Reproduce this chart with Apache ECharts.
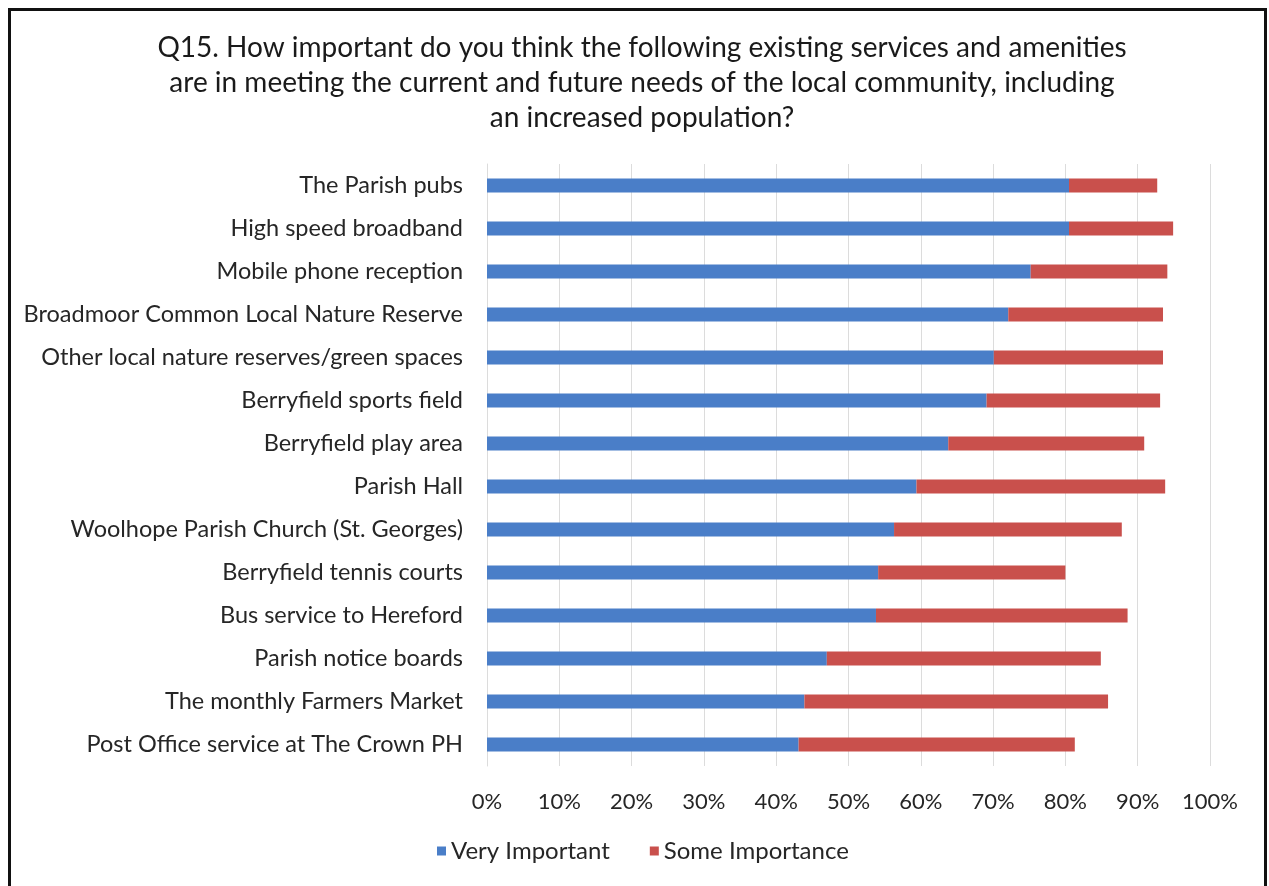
<!DOCTYPE html>
<html>
<head>
<meta charset="utf-8">
<script src="https://cdn.jsdelivr.net/npm/echarts@6/dist/echarts.min.js"></script>
<style>
  html, body { margin: 0; padding: 0; background: #fff; }
  #chart { width: 1269px; height: 886px; }
</style>
</head>
<body>
<div id="chart"></div>
<script>
// Survey answers, top row first
var categories = [
  'The Parish pubs',
  'High speed broadband',
  'Mobile phone reception',
  'Broadmoor Common Local Nature Reserve',
  'Other local nature reserves/green spaces',
  'Berryfield sports field',
  'Berryfield play area',
  'Parish Hall',
  'Woolhope Parish Church (St. Georges)',
  'Berryfield tennis courts',
  'Bus service to Hereford',
  'Parish notice boards',
  'The monthly Farmers Market',
  'Post Office service at The Crown PH'
];
var veryImportant = [80.5, 80.5, 75.2, 72.1, 70.1, 69.1, 63.8, 59.4, 56.3, 54.1, 53.8, 47.0, 43.9, 43.1];
var someImportance = [12.2, 14.4, 18.9, 21.4, 23.4, 24.0, 27.1, 34.4, 31.5, 25.9, 34.8, 37.9, 42.0, 38.2];
var tickValues = [0, 10, 20, 30, 40, 50, 60, 70, 80, 90, 100];

var FONT = 'Lato';
var chart = echarts.init(document.getElementById('chart'), null, { renderer: 'canvas' });

chart.setOption({
  backgroundColor: '#ffffff',
  animation: false,
  title: {
    text: 'Q15. How important do you think the following existing services and amenities\nare in meeting the current and future needs of the local community, including\nan increased population?',
    left: 637,
    top: 25,
    textAlign: 'center',
    textStyle: {
      fontFamily: FONT,
      fontSize: 28,
      fontWeight: 'normal',
      color: '#1a1a1a',
      lineHeight: 35
    }
  },
  legend: {
    bottom: 18,
    left: 432,
    itemWidth: 9,
    itemHeight: 9,
    itemGap: 40,
    icon: 'rect',
    textStyle: { fontFamily: FONT, fontSize: 24, color: '#262626' },
    data: ['Very Important', 'Some Importance']
  },
  grid: {
    left: 487,
    right: 59,
    top: 164,
    bottom: 120,
    containLabel: false
  },
  xAxis: {
    type: 'value',
    min: 0,
    max: 100,
    interval: 10,
    axisLine: { show: false },
    axisTick: { show: false },
    splitLine: { show: true, lineStyle: { color: '#dcdcdc', width: 1 } },
    axisLabel: {
      margin: 25,
      fontFamily: FONT,
      fontSize: 22,
      color: '#262626',
      formatter: function (v) { return tickValues.indexOf(v) >= 0 ? v + '%' : ''; }
    }
  },
  yAxis: {
    type: 'category',
    inverse: true,
    data: categories,
    axisLine: { show: true, lineStyle: { color: '#dcdcdc' } },
    axisTick: { show: false },
    axisLabel: {
      margin: 24,
      fontFamily: FONT,
      fontSize: 23.5,
      color: '#262626'
    }
  },
  series: [
    {
      name: 'Very Important',
      type: 'bar',
      stack: 'total',
      data: veryImportant,
      barWidth: 14,
      itemStyle: { color: '#4a7ec8' }
    },
    {
      name: 'Some Importance',
      type: 'bar',
      stack: 'total',
      data: someImportance,
      barWidth: 14,
      itemStyle: { color: '#c9504c' }
    }
  ],
  graphic: [
    {
      type: 'rect',
      left: 7,
      top: 7,
      shape: { x: 0, y: 0, width: 1256, height: 900 },
      style: { fill: 'none', stroke: '#111', lineWidth: 3 },
      silent: true
    }
  ]
});
</script>
</body>
</html>
